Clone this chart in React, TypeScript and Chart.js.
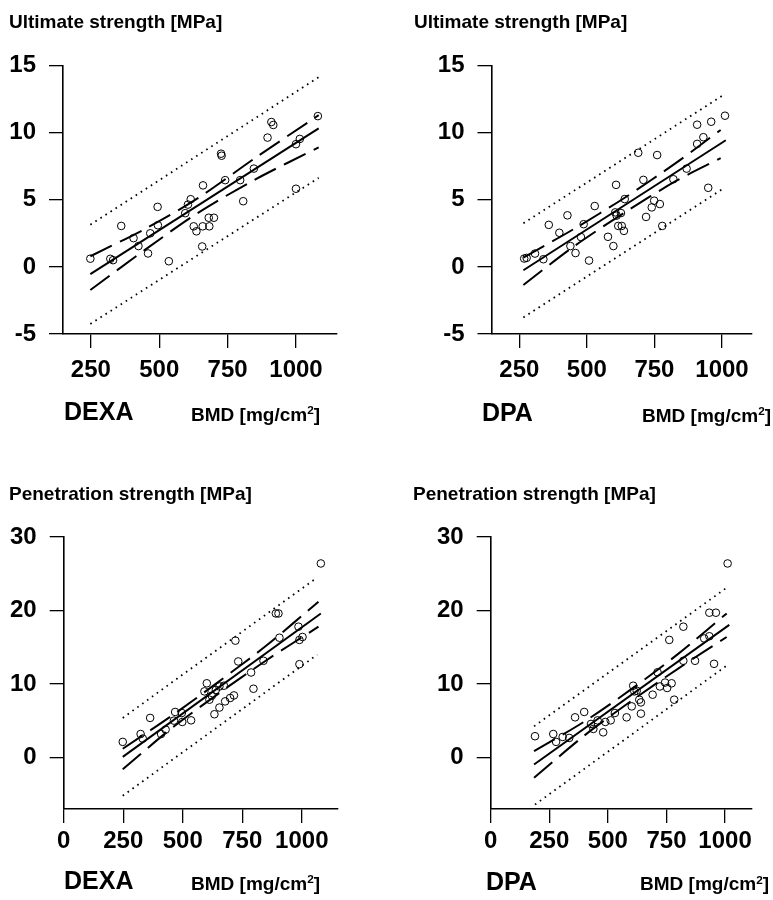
import React, { useEffect, useRef } from 'react';
import { Chart, registerables } from 'chart.js';
Chart.register(...registerables);

const FONT = "'Liberation Sans', Arial, Helvetica, sans-serif";

// ---------- Panel 1: DEXA, Ultimate strength ----------
const p1X = [248, 321, 331, 361, 406, 424, 459, 467, 494, 495, 535, 595, 605, 615, 626, 636, 657, 659, 660, 681, 683, 700, 726, 728, 741, 796, 807, 846, 896, 910, 917, 1000, 1000, 1014, 1080];
const p1Y = [0.61, 0.6, 0.5, 3.05, 2.14, 1.55, 1.0, 2.5, 4.47, 3.1, 0.42, 4.0, 4.64, 5.04, 3.02, 2.65, 1.52, 3.02, 6.07, 3.66, 3.02, 3.66, 8.43, 8.28, 6.46, 6.46, 4.89, 7.32, 9.63, 10.79, 10.57, 9.14, 5.82, 9.53, 11.23];
const p1FitX = [248, 1083];
const p1FitY = [-0.54, 10.32];
const p1BandX = [248, 450, 640, 850, 1083];
const p1ConfUp = [0.79, 2.85, 5.1, 8.1, 11.3];
const p1ConfLo = [-1.72, 1.3, 4.0, 6.5, 8.9];
const p1PredX = [248, 1083];
const p1PredUp = [3.14, 14.13];
const p1PredLo = [-4.25, 6.63];

// ---------- Panel 2: DPA, Ultimate strength ----------
const p2X = [268, 277, 308, 339, 359, 398, 428, 439, 458, 478, 488, 508, 529, 578, 598, 605, 608, 610, 616, 626, 629, 637, 640, 690, 709, 719, 740, 749, 760, 770, 779, 820, 869, 908, 908, 931, 949, 960, 1011];
const p2Y = [0.62, 0.67, 0.99, 0.57, 3.13, 2.54, 3.84, 1.55, 1.03, 2.22, 3.18, 0.47, 4.53, 2.24, 1.55, 4.06, 6.11, 3.82, 3.05, 4.01, 3.05, 2.68, 5.05, 8.5, 6.48, 3.72, 4.43, 4.93, 8.33, 4.68, 3.05, 6.53, 7.32, 10.59, 9.16, 9.66, 5.89, 10.81, 11.26];
const p2FitX = [265, 1014];
const p2FitY = [-0.25, 9.43];
const p2BandX = [265, 450, 640, 830, 995];
const p2ConfUp = [0.69, 2.8, 5.15, 7.75, 10.2];
const p2ConfLo = [-1.35, 1.5, 4.05, 6.4, 8.1];
const p2PredX = [265, 1005];
const p2PredUp = [3.25, 12.8];
const p2PredLo = [-3.77, 5.84];

// ---------- Panel 3: DEXA, Penetration strength ----------
const p3X = [248, 323, 332, 363, 409, 428, 463, 468, 496, 498, 535, 591, 601, 612, 622, 633, 639, 654, 654, 673, 678, 699, 715, 721, 733, 787, 797, 839, 891, 902, 906, 986, 990, 990, 1003, 1080];
const p3Y = [2.13, 3.2, 2.58, 5.39, 3.2, 3.8, 5.02, 6.2, 6.06, 4.84, 5.06, 9.0, 10.1, 7.87, 8.41, 5.89, 9.2, 9.67, 6.8, 9.77, 7.64, 8.1, 8.45, 15.9, 13.07, 11.57, 9.36, 13.16, 19.6, 19.6, 16.3, 17.8, 16.0, 12.7, 16.4, 26.4];
const p3FitX = [248, 1080];
const p3FitY = [0.09, 19.6];
const p3BandX = [248, 450, 650, 850, 1070];
const p3ConfUp = [1.2, 5.6, 10.3, 15.2, 21.2];
const p3ConfLo = [-1.6, 3.9, 8.7, 13.2, 17.8];
const p3PredX = [248, 1065];
const p3PredUp = [5.39, 24.5];
const p3PredLo = [-5.2, 14.0];

// ---------- Panel 4: DPA, Penetration strength ----------
const p4X = [189, 267, 279, 307, 335, 360, 399, 428, 438, 456, 480, 489, 512, 530, 580, 602, 608, 613, 623, 634, 641, 641, 691, 712, 722, 744, 753, 762, 772, 783, 822, 822, 872, 911, 933, 933, 953, 961, 1011];
const p4Y = [2.9, 3.2, 2.13, 2.8, 2.67, 5.47, 6.2, 4.57, 3.89, 5.06, 3.43, 4.84, 5.06, 6.06, 5.47, 6.96, 9.77, 9.0, 9.09, 7.87, 7.5, 5.97, 8.55, 11.6, 9.67, 10.2, 9.46, 16.0, 10.1, 7.87, 17.8, 13.16, 13.16, 16.2, 16.5, 19.7, 12.75, 19.7, 26.4];
const p4FitX = [185, 1018];
const p4FitY = [-0.95, 18.05];
const p4BandX = [185, 400, 600, 800, 1007];
const p4ConfUp = [0.86, 4.9, 9.3, 14.1, 19.6];
const p4ConfLo = [-2.76, 3.0, 7.7, 12.1, 16.4];
const p4PredUpX = [185, 1011];
const p4PredUp = [4.25, 23.2];
const p4PredLoX = [189, 1011];
const p4PredLo = [-6.4, 12.6];

// ---------- Tick labels ----------
const topXTicks = [250, 500, 750, 1000];
const topYTicks = [-5, 0, 5, 10, 15];
const botXTicks = [0, 250, 500, 750, 1000];
const botYTicks = [0, 10, 20, 30];

const pts = (xs: number[], ys: number[]) => xs.map((x, i) => ({ x, y: ys[i] }));

type PanelCfg = {
  left: number; top: number; w: number; h: number;
  padT: number; padR: number; yw: number; xh: number; xPad: number;
  xMin: number; xMax: number; yMin: number; yMax: number;
  xTicks: number[]; yTicks: number[];
  px: number[]; py: number[];
  fitX: number[]; fitY: number[];
  bandX: number[]; confUp: number[]; confLo: number[];
  predUpX: number[]; predUp: number[]; predLoX: number[]; predLo: number[];
};

const panels: PanelCfg[] = [
  {
    left: 0, top: 30, w: 360, h: 390, padT: 35.5, padR: 23, yw: 63, xh: 86, xPad: 8,
    xMin: 148, xMax: 1150, yMin: -5, yMax: 15, xTicks: topXTicks, yTicks: topYTicks,
    px: p1X, py: p1Y, fitX: p1FitX, fitY: p1FitY, bandX: p1BandX, confUp: p1ConfUp, confLo: p1ConfLo,
    predUpX: p1PredX, predUp: p1PredUp, predLoX: p1PredX, predLo: p1PredLo,
  },
  {
    left: 400, top: 30, w: 370, h: 390, padT: 35.5, padR: 18, yw: 91.5, xh: 86, xPad: 8,
    xMin: 147, xMax: 1111, yMin: -5, yMax: 15, xTicks: topXTicks, yTicks: topYTicks,
    px: p2X, py: p2Y, fitX: p2FitX, fitY: p2FitY, bandX: p2BandX, confUp: p2ConfUp, confLo: p2ConfLo,
    predUpX: p2PredX, predUp: p2PredUp, predLoX: p2PredX, predLo: p2PredLo,
  },
  {
    left: 0, top: 500, w: 360, h: 400, padT: 37, padR: 22, yw: 63.7, xh: 91, xPad: 4,
    xMin: 0, xMax: 1152, yMin: -7, yMax: 30, xTicks: botXTicks, yTicks: botYTicks,
    px: p3X, py: p3Y, fitX: p3FitX, fitY: p3FitY, bandX: p3BandX, confUp: p3ConfUp, confLo: p3ConfLo,
    predUpX: p3PredX, predUp: p3PredUp, predLoX: p3PredX, predLo: p3PredLo,
  },
  {
    left: 400, top: 500, w: 370, h: 400, padT: 37, padR: 18, yw: 90.7, xh: 91, xPad: 4,
    xMin: 0, xMax: 1115, yMin: -7, yMax: 30, xTicks: botXTicks, yTicks: botYTicks,
    px: p4X, py: p4Y, fitX: p4FitX, fitY: p4FitY, bandX: p4BandX, confUp: p4ConfUp, confLo: p4ConfLo,
    predUpX: p4PredUpX, predUp: p4PredUp, predLoX: p4PredLoX, predLo: p4PredLo,
  },
];

const lineDs = (data: { x: number; y: number }[], dash: number[], width: number, tension = 0) => ({
  data,
  showLine: true,
  pointRadius: 0,
  borderColor: '#000',
  borderWidth: width,
  borderDash: dash,
  borderCapStyle: 'butt',
  tension,
  fill: false,
});

function Panel({ cfg }: { cfg: PanelCfg }) {
  const ref = useRef<HTMLCanvasElement>(null);
  useEffect(() => {
    if (!ref.current) return;
    const tickFont = { family: FONT, size: 24, weight: 'bold' as const };
    const axisCommon = {
      grid: { display: true, drawOnChartArea: false, drawTicks: true, tickLength: 14, color: '#000', lineWidth: 1.3 },
      border: { display: true, color: '#000', width: 1.6 },
    };
    const chart = new Chart(ref.current, {
      type: 'scatter',
      data: {
        datasets: [
          {
            data: pts(cfg.px, cfg.py),
            showLine: false,
            pointRadius: 3.8,
            pointBorderWidth: 1,
            pointBorderColor: '#000',
            pointBackgroundColor: 'rgba(0,0,0,0)',
          } as any,
          lineDs(pts(cfg.fitX, cfg.fitY), [], 2),
          lineDs(pts(cfg.bandX, cfg.confUp), [24, 9], 2, 0.3),
          lineDs(pts(cfg.bandX, cfg.confLo), [24, 9], 2, 0.3),
          lineDs(pts(cfg.predUpX, cfg.predUp), [1.6, 4.4], 1.8),
          lineDs(pts(cfg.predLoX, cfg.predLo), [1.6, 4.4], 1.8),
        ],
      },
      options: {
        animation: false,
        responsive: false,
        devicePixelRatio: 1,
        events: [],
        layout: { padding: { left: 0, top: cfg.padT, right: cfg.padR, bottom: 0 } },
        plugins: { legend: { display: false }, tooltip: { enabled: false }, title: { display: false } },
        scales: {
          x: {
            type: 'linear',
            min: cfg.xMin,
            max: cfg.xMax,
            ...axisCommon,
            afterBuildTicks: (s: any) => { s.ticks = cfg.xTicks.map((v) => ({ value: v })); },
            afterFit: (s: any) => { s.height = cfg.xh; },
            ticks: { font: tickFont, color: '#000', padding: cfg.xPad, maxRotation: 0, autoSkip: false, callback: (v: any) => String(v) },
          },
          y: {
            type: 'linear',
            min: cfg.yMin,
            max: cfg.yMax,
            ...axisCommon,
            afterBuildTicks: (s: any) => { s.ticks = cfg.yTicks.map((v) => ({ value: v })); },
            afterFit: (s: any) => { s.width = cfg.yw; },
            ticks: { font: tickFont, color: '#000', padding: 13, autoSkip: false, callback: (v: any) => String(v) },
          },
        },
      } as any,
    });
    return () => chart.destroy();
  }, [cfg]);
  return (
    <canvas
      ref={ref}
      width={cfg.w}
      height={cfg.h}
      style={{ position: 'absolute', left: cfg.left, top: cfg.top, width: cfg.w, height: cfg.h }}
    />
  );
}

type Lbl = { text: string; left: number; top: number; size: number; sup?: boolean };
const labels: Lbl[] = [
  { text: 'Ultimate strength [MPa]', left: 9, top: 11.5, size: 19 },
  { text: 'Ultimate strength [MPa]', left: 414, top: 11.5, size: 19 },
  { text: 'Penetration strength [MPa]', left: 9, top: 484, size: 19 },
  { text: 'Penetration strength [MPa]', left: 413, top: 484, size: 19 },
  { text: 'DEXA', left: 64, top: 399, size: 25 },
  { text: 'DPA', left: 482, top: 400, size: 25 },
  { text: 'DEXA', left: 64, top: 868, size: 25 },
  { text: 'DPA', left: 486, top: 869, size: 25 },
  { text: 'BMD [mg/cm', left: 191, top: 404.5, size: 19, sup: true },
  { text: 'BMD [mg/cm', left: 642, top: 405.5, size: 19, sup: true },
  { text: 'BMD [mg/cm', left: 191, top: 873.5, size: 19, sup: true },
  { text: 'BMD [mg/cm', left: 640, top: 874, size: 19, sup: true },
];

export default function App() {
  return (
    <div style={{ position: 'absolute', left: 0, top: 0, width: 773, height: 900, overflow: 'hidden', background: '#fff' }}>
      {panels.map((p, i) => <Panel key={i} cfg={p} />)}
      {labels.map((l, i) => (
        <div
          key={'l' + i}
          style={{
            position: 'absolute', left: l.left, top: l.top, fontFamily: FONT, fontWeight: 'bold',
            fontSize: l.size, lineHeight: `${l.size}px`, whiteSpace: 'nowrap', color: '#000',
          }}
        >
          {l.text}
          {l.sup ? (
            <>
              <span style={{ fontSize: '0.62em', position: 'relative', top: '-0.55em' }}>2</span>]
            </>
          ) : null}
        </div>
      ))}
    </div>
  );
}
